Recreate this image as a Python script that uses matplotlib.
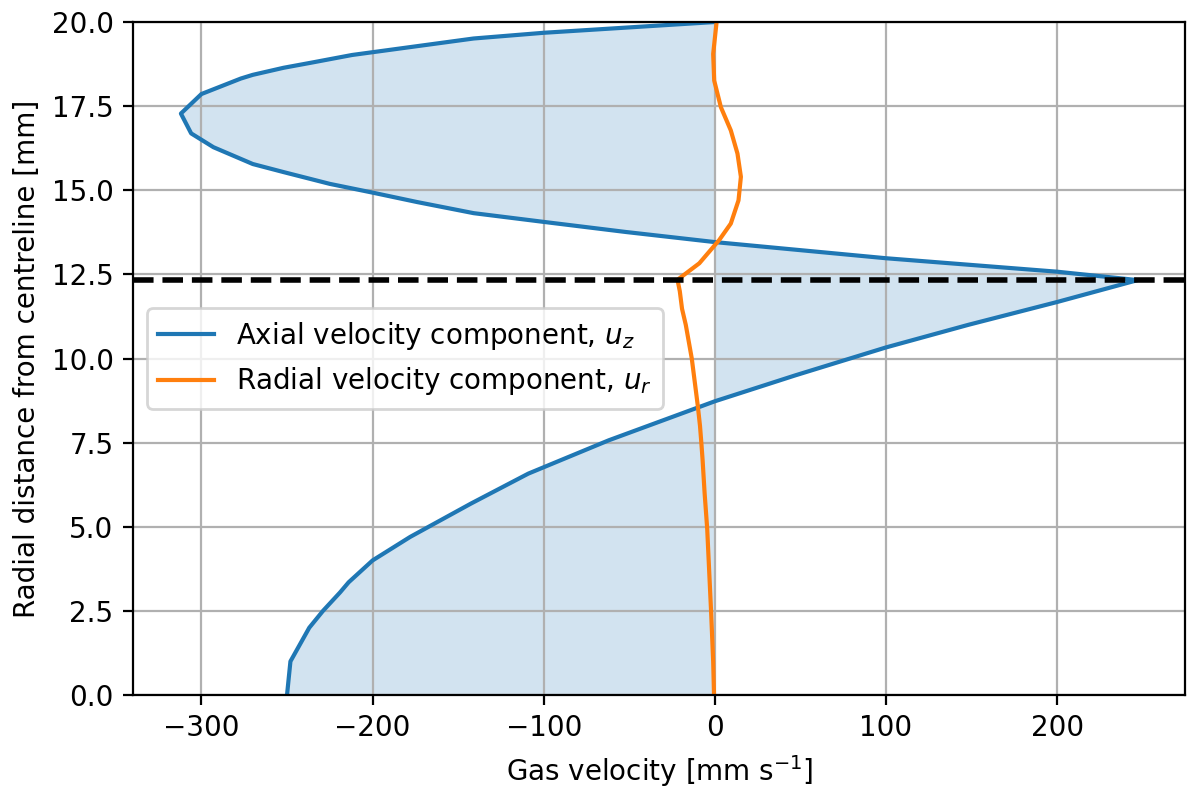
import numpy as np
import matplotlib
matplotlib.use("Agg")
import matplotlib.pyplot as plt

# axial velocity profile u_z [mm/s] against radial position [mm]
r_axial = [0.0, 1.0, 2.0, 2.5, 3.05, 3.35, 4.0, 4.7, 5.69, 6.58, 7.57, 8.73,
           9.5, 10.33, 11.0, 11.68, 12.33, 12.58, 12.98, 13.46, 13.76, 14.06,
           14.32, 14.65, 14.93, 15.19, 15.54, 15.78, 16.28, 16.69, 17.28,
           17.86, 18.32, 18.43, 18.64, 18.79, 19.02, 19.51, 19.68, 20.0]
u_axial = [-250, -248, -237, -229, -219, -214, -200, -178, -142.5, -109, -62, 0,
           47, 100, 148, 200, 247, 200, 100, 0, -52, -100,
           -141, -174, -200, -225, -252, -270, -293, -306, -312,
           -300, -277, -270, -252, -236, -212, -141, -100, 0]

# radial velocity profile u_r [mm/s]
r_radial = [0.0, 1.0, 2.47, 3.0, 4.95, 6.0, 7.0, 7.42, 8.0, 8.6, 9.0, 10.0,
            11.0, 11.48, 12.0, 12.33, 12.38, 12.83, 13.52, 14.01, 14.7, 15.4,
            16.09, 16.78, 17.47, 18.26, 19.05, 20.0]
u_radial = [-0.5, -1.0, -2.2, -2.7, -4.5, -6.0, -7.2, -7.8, -8.7, -10.0, -11.0,
            -13.5, -17.0, -19.2, -20.5, -21.8, -20.8, -9.1, 2.5, 9.3, 13.8, 15.2,
            13.2, 9.3, 3.5, -0.4, -1.0, 1.0]

plt.rcParams['font.size'] = 10

fig = plt.figure(figsize=(1187 / 200, 789 / 200), dpi=200)
ax = fig.add_axes([0.1121, 0.1191, 0.8866, 0.853])

ax.plot(u_axial, r_axial, color='C0', label='Axial velocity component, $u_z$')
ax.fill_betweenx(r_axial, u_axial, 0, color='C0', alpha=0.2, linewidth=0)
ax.plot(u_radial, r_radial, color='C1', label='Radial velocity component, $u_r$')

# radius at which the axial velocity peaks
r_peak = r_axial[int(np.argmax(u_axial))]
ax.axhline(r_peak, color='k', linestyle='--', linewidth=2)

ax.set_ylim(0, 20)
ax.grid(True)
ax.set_xlabel('Gas velocity [mm s$^{-1}$]')
ax.set_ylabel('Radial distance from centreline [mm]')
ax.legend(loc='center left')

fig.savefig('out.png', dpi=200)
